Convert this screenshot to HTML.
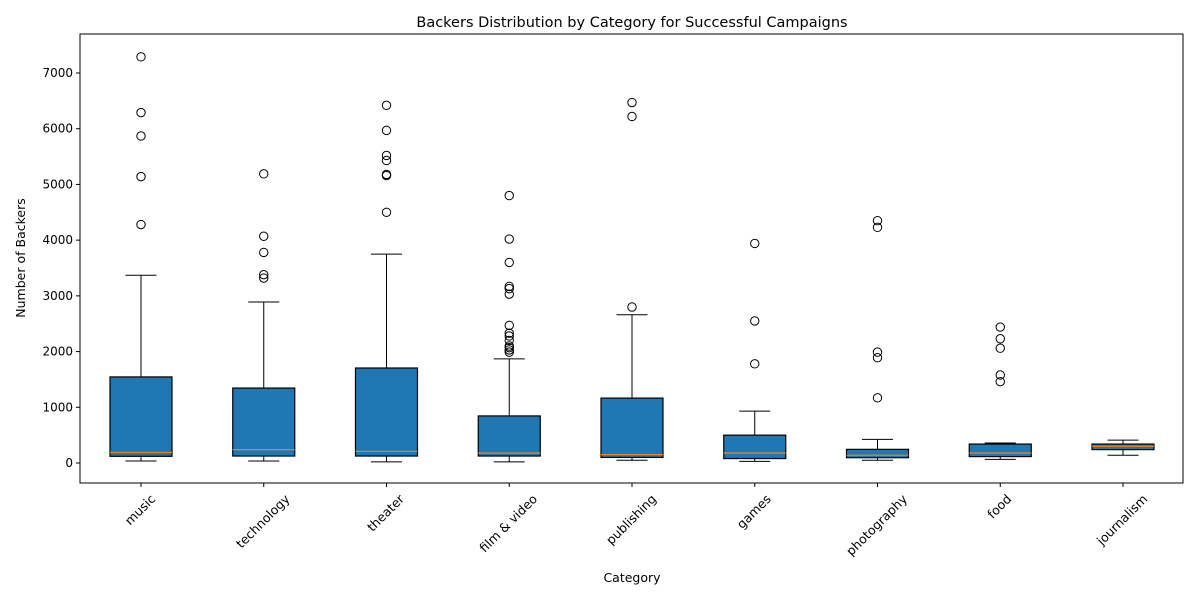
<!DOCTYPE html>
<html><head><meta charset="utf-8"><style>
body{margin:0;background:#fff;font-family:"Liberation Sans","DejaVu Sans",sans-serif}
svg text{font-family:"DejaVu Sans","Liberation Sans",sans-serif}
</style></head><body>
<svg id="chart" width="1200" height="600" xmlns="http://www.w3.org/2000/svg">
<text x="632" y="27" font-size="14.5" text-anchor="middle">Backers Distribution by Category for Successful Campaigns</text>
<g id="plot"></g>
<text x="632" y="582" font-size="12.5" text-anchor="middle">Category</text>
<text transform="translate(25,258) rotate(-90)" font-size="12.5" text-anchor="middle">Number of Backers</text>
</svg>
<script>
const categories=["music","technology","theater","film & video","publishing","games","photography","food","journalism"];
const whiskerLow=[35,35,20,20,50,30,50,65,140];
const q1=[120,125,125,125,100,80,95,115,240];
const medians=[190,240,210,180,150,180,140,180,300];
const q3=[1545,1345,1705,845,1165,500,245,340,340];
const whiskerHigh=[3370,2890,3750,1870,2660,930,425,360,410];
const outliers=[[7290,6290,5870,5140,4280],[5190,4070,3780,3380,3320],[6420,5970,5520,5430,5180,5160,4500],[4800,4020,3600,3170,3130,3030,2470,2330,2280,2200,2100,2070,2030,1990],[6470,6220,2800],[3940,2550,1780],[4350,4230,1990,1890,1170],[2440,2230,2060,1580,1460],[]];
const yTicks=[0,1000,2000,3000,4000,5000,6000,7000];

const NS="http://www.w3.org/2000/svg";
const L=80,R=1183,T=34,B=483;
const y=v=>463-v*0.055714;
const x=i=>141+i*122.75;
const g=document.getElementById('plot');
function mk(t,a){const e=document.createElementNS(NS,t);for(const k in a)e.setAttribute(k,a[k]);g.appendChild(e);return e;}
yTicks.forEach(v=>{
  const t=mk('line',{x1:L-4,x2:L,y1:y(v),y2:y(v),stroke:'#000'});
  
  
  const s=mk('text',{x:L-7,y:y(v)+4,'font-size':12,'text-anchor':'end'});s.textContent=v;
  
  
});
categories.forEach((c,i)=>{
  const cx=x(i),hw=31,cw=15.5;
  const grp=mk('g',{});
  
  
  const add=(t,a)=>{const e=mk(t,a);grp.appendChild(e);return e;};
  add('line',{x1:cx,x2:cx,y1:y(q1[i]),y2:y(whiskerLow[i]),stroke:'#000'});
  add('line',{x1:cx,x2:cx,y1:y(q3[i]),y2:y(whiskerHigh[i]),stroke:'#000'});
  add('line',{x1:cx-cw,x2:cx+cw,y1:y(whiskerLow[i]),y2:y(whiskerLow[i]),stroke:'#000'});
  add('line',{x1:cx-cw,x2:cx+cw,y1:y(whiskerHigh[i]),y2:y(whiskerHigh[i]),stroke:'#000'});
  add('rect',{x:cx-hw,y:y(q3[i]),width:2*hw,height:y(q1[i])-y(q3[i]),fill:'#1f77b4',stroke:'#000','stroke-width':1.2});
  add('line',{x1:cx-hw,x2:cx+hw,y1:y(medians[i]),y2:y(medians[i]),stroke:'#ff7f0e','stroke-width':1.2});
  outliers[i].forEach(v=>{
    const o=add('circle',{cx:cx,cy:y(v),r:4.2,fill:'none',stroke:'#000'});
    
    
  });
  mk('line',{x1:cx,x2:cx,y1:B,y2:B+4,stroke:'#000'});
  const s=mk('text',{'font-size':12.5,'text-anchor':'middle','dominant-baseline':'central'});s.textContent=c;
  const len=s.getComputedTextLength();
  const cy=B+9+(len+13)*0.3536;
  s.setAttribute('transform',`translate(${cx-1},${cy}) rotate(-45)`);
  
  
});
const f=mk('rect',{x:L,y:T,width:R-L,height:B-T,fill:'none',stroke:'#000'});


</script>
</body></html>
